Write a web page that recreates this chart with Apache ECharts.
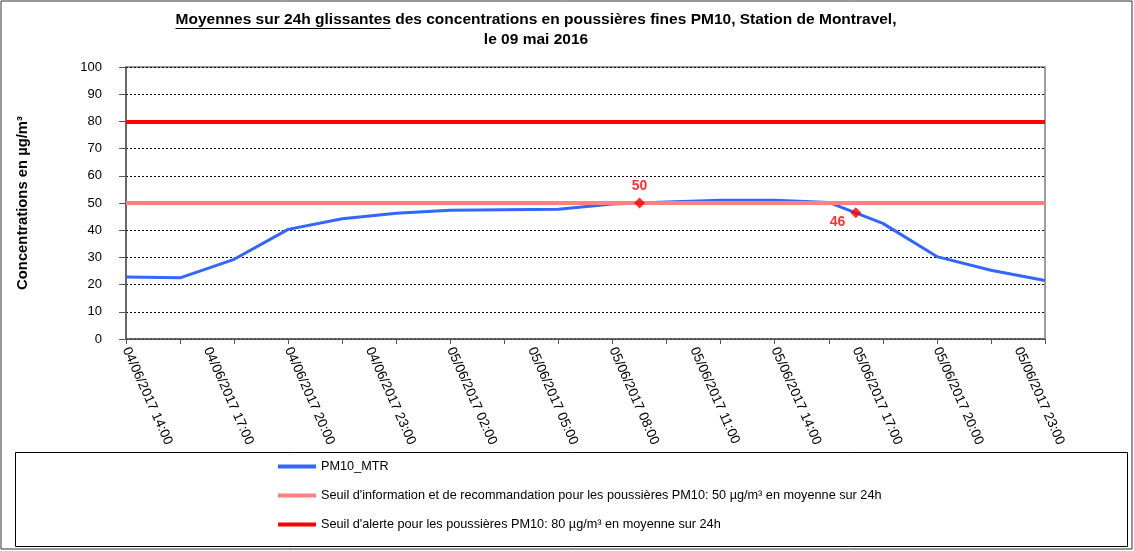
<!DOCTYPE html>
<html>
<head>
<meta charset="utf-8">
<script src="https://cdn.jsdelivr.net/npm/echarts@6/dist/echarts.min.js"></script>
<style>
  html, body { margin: 0; padding: 0; background: #fff; }
  #main { width: 1134px; height: 551px; }
</style>
</head>
<body>
<div id="main"></div>
<script>
// heures (une valeur toutes les heures, mesures connues toutes les 2h)
const hours = [
  '04/06/2017 14:00', '04/06/2017 15:00', '04/06/2017 16:00', '04/06/2017 17:00',
  '04/06/2017 18:00', '04/06/2017 19:00', '04/06/2017 20:00', '04/06/2017 21:00',
  '04/06/2017 22:00', '04/06/2017 23:00', '05/06/2017 00:00', '05/06/2017 01:00',
  '05/06/2017 02:00', '05/06/2017 03:00', '05/06/2017 04:00', '05/06/2017 05:00',
  '05/06/2017 06:00', '05/06/2017 07:00', '05/06/2017 08:00', '05/06/2017 09:00',
  '05/06/2017 10:00', '05/06/2017 11:00', '05/06/2017 12:00', '05/06/2017 13:00',
  '05/06/2017 14:00', '05/06/2017 15:00', '05/06/2017 16:00', '05/06/2017 17:00',
  '05/06/2017 18:00', '05/06/2017 19:00', '05/06/2017 20:00', '05/06/2017 21:00',
  '05/06/2017 22:00', '05/06/2017 23:00', '06/06/2017 00:00'
]

// PM10_MTR, moyenne glissante 24h
const pm10 = [
  22.8, null, 22.5, null, 29.3, null, 40.3, null, 44.2, null,
  46.2, null, 47.3, null, 47.5, null, 47.7, null, 49.6, null,
  50.4, null, 51.0, null, 51.0, null, 50.2, null, 42.5, null,
  30.3, null, 25.3, null, 21.5
]

// points marqués (losanges rouges)
const markedIdx = [19, 27]
const markedVal = [50, 46.4]

const seuilInfo = 50
const seuilAlerte = 80

const titleLeft = 'Moyennes sur 24h glissantes'
const titleRight = ' des concentrations en poussières fines PM10, Station de Montravel,'
const titleLine2 = 'le 09 mai 2016'

const nameSerie = 'PM10_MTR'
const nameInfo = "Seuil d'information et de recommandation pour les poussières PM10: 50 µg/m³ en moyenne sur 24h"
const nameAlerte = "Seuil d'alerte pour les poussières PM10: 80 µg/m³ en moyenne sur 24h"

const FONT = 'Liberation Sans, Arial, sans-serif'
const titleSize = 15.5
const titleCenter = 536

// largeur du texte pour placer le soulignement
const ctx = document.createElement('canvas').getContext('2d')
ctx.font = 'bold ' + titleSize + 'px ' + FONT
const wLeft = ctx.measureText(titleLeft).width
const wAll = ctx.measureText(titleLeft + titleRight).width
const ulStart = titleCenter - wAll / 2

const marked = hours.map(() => null)
markedIdx.forEach((i, k) => {
  marked[i] = {
    value: markedVal[k],
    label: k === 0
      ? { position: 'top', distance: 4 }
      : { position: 'left', distance: 5, offset: [0, 9] }
  }
})

const chart = echarts.init(document.getElementById('main'))

const option = {
  animation: false,
  textStyle: { fontFamily: FONT },
  title: {
    text: '{b|' + titleLeft + titleRight + '}\n{b|' + titleLine2 + '}',
    left: titleCenter,
    top: 10,
    padding: 0,
    textAlign: 'center',
    textStyle: {
      rich: {
        b: { fontFamily: FONT, fontWeight: 'bold', fontSize: titleSize, color: '#000', lineHeight: 20, align: 'center' }
      }
    }
  },
  graphic: [
    { type: 'rect', shape: { x: 1, y: 1, width: 1131, height: 548 }, style: { fill: 'none', stroke: '#333', lineWidth: 1 }, silent: true },
    { type: 'rect', shape: { x: 15.5, y: 452.5, width: 1112, height: 94 }, style: { fill: 'none', stroke: '#000', lineWidth: 1 }, silent: true },
    { type: 'line', shape: { x1: ulStart, y1: 28.5, x2: ulStart + wLeft, y2: 28.5 }, style: { stroke: '#000', lineWidth: 1 }, silent: true }
  ],
  legend: {
    orient: 'vertical',
    left: 278,
    top: 460,
    padding: 0,
    itemWidth: 38,
    itemHeight: 4,
    itemGap: 16,
    textStyle: { fontFamily: FONT, fontSize: 12.7, color: '#000' },
    data: [
      { name: nameSerie, icon: 'rect' },
      { name: nameInfo, icon: 'rect' },
      { name: nameAlerte, icon: 'rect' }
    ]
  },
  grid: {
    left: 126,
    right: 89,
    top: 67,
    bottom: 212,
    show: true,
    borderColor: '#808080',
    borderWidth: 1.5
  },
  xAxis: {
    type: 'category',
    data: hours,
    boundaryGap: false,
    axisLine: { lineStyle: { color: '#555', width: 1.5 } },
    axisTick: { interval: 1, length: 5, lineStyle: { color: '#555' } },
    axisLabel: {
      interval: 2,
      rotate: -66,
      margin: 9,
      fontSize: 13.5,
      color: '#000',
      fontFamily: FONT
    },
    splitLine: { show: false }
  },
  yAxis: {
    type: 'value',
    min: 0,
    max: 100,
    interval: 10,
    name: 'Concentrations en µg/m³',
    nameLocation: 'middle',
    nameGap: 96,
    nameRotate: 90,
    nameTextStyle: { fontFamily: FONT, fontWeight: 'bold', fontSize: 14.8, color: '#000' },
    axisLine: { show: true, lineStyle: { color: '#555', width: 1.5 } },
    axisTick: { show: true, length: 7, lineStyle: { color: '#555' } },
    axisLabel: { margin: 24, fontSize: 13, color: '#000', fontFamily: FONT },
    splitLine: { lineStyle: { color: '#000', type: [2, 2], width: 1 } }
  },
  series: [
    {
      name: nameSerie,
      type: 'line',
      data: pm10,
      connectNulls: true,
      symbol: 'none',
      color: '#3366FF',
      lineStyle: { color: '#3366FF', width: 3 },
      z: 3
    },
    {
      name: nameInfo,
      type: 'line',
      data: [],
      color: '#FF8080',
      markLine: {
        silent: true,
        symbol: 'none',
        label: { show: false },
        lineStyle: { color: '#FF8080', width: 4, type: 'solid' },
        data: [{ yAxis: seuilInfo }]
      },
      z: 4
    },
    {
      name: nameAlerte,
      type: 'line',
      data: [],
      color: '#FF0000',
      markLine: {
        silent: true,
        symbol: 'none',
        label: { show: false },
        lineStyle: { color: '#FF0000', width: 4, type: 'solid' },
        data: [{ yAxis: seuilAlerte }]
      },
      z: 4
    },
    {
      name: 'max',
      type: 'scatter',
      data: marked,
      symbol: 'diamond',
      symbolSize: 11,
      itemStyle: { color: '#FF0000' },
      label: {
        show: true,
        color: '#FF0000',
        fontWeight: 'bold',
        fontSize: 14,
        fontFamily: FONT,
        formatter: (p) => Math.round(p.value)
      },
      z: 6
    }
  ]
}

chart.setOption(option)
</script>
</body>
</html>
